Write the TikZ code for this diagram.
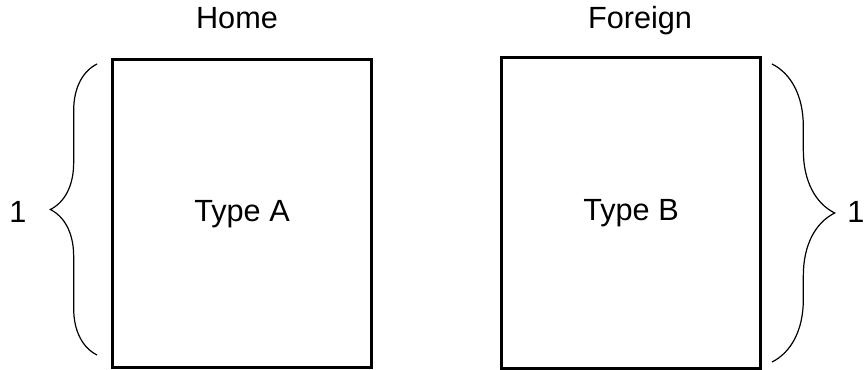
\documentclass[tikz,border=0pt]{standalone}
\usepackage{fontspec}
\setmainfont{Liberation Sans}
\usetikzlibrary{decorations.pathreplacing}
\newcommand{\lbl}{\fontsize{23}{27}\selectfont}

\begin{document}
\begin{tikzpicture}[x=0.75pt,y=-0.75pt]
   \useasboundingbox (0,0) rectangle (865,370);
   \tikzset{typebox/.style={draw,line width=2.25pt,minimum width=194pt,font=\lbl},
            crly/.style={decorate,line width=0.9pt},
            txt/.style={font=\lbl,anchor=base,inner sep=0pt}}
   \node[typebox,minimum height=231pt] (boxA) at (242,214) {Type A};
   \node[typebox,minimum height=233pt] (boxB) at (631,213) {Type B};
   \node[txt] (home)    at (237,29) {Home};
   \node[txt] (foreign) at (640,29) {Foreign};
   \coordinate (braAbot) at (97,355);
   \coordinate (braAtop) at (97,64);
   \coordinate (braBtop) at (772,64);
   \coordinate (braBbot) at (772,362);
   \draw[crly,decoration={brace,amplitude=35pt}] (braAbot) -- (braAtop);
   \draw[crly,decoration={brace,amplitude=47pt}] (braBtop) -- (braBbot);
   \node[txt] (oneA) at (18,223) {1};
   \node[txt] (oneB) at (856,223) {1};
\end{tikzpicture}
\end{document}
